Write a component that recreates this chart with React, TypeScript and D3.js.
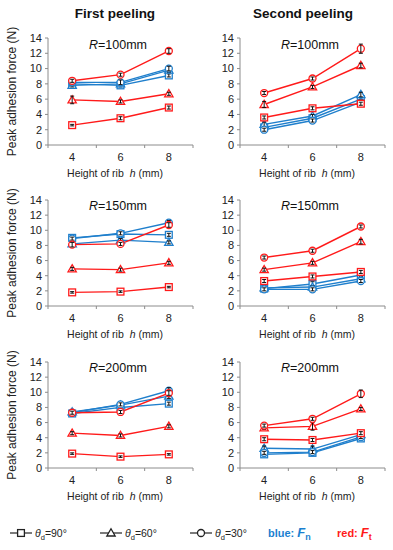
import React from 'react'
import * as d3 from 'd3'

const heights = [4, 6, 8]
const yTicks = [0, 2, 4, 6, 8, 10, 12, 14]

// series order: blue square, blue triangle, blue circle, red square, red triangle, red circle
const firstR100 = [[8.0, 7.8, 9.1], [7.8, 8.0, 9.8], [8.2, 8.2, 10.0], [2.6, 3.5, 4.9], [5.9, 5.7, 6.7], [8.4, 9.2, 12.3]]
const secondR100 = [[2.3, 3.5, 6.0], [2.7, 3.8, 6.6], [2.0, 3.2, 5.6], [3.6, 4.8, 5.4], [5.3, 7.6, 10.4], [6.8, 8.7, 12.6]]
const firstR150 = [[9.0, 9.5, 9.4], [8.2, 8.7, 8.4], [8.9, 9.6, 11.0], [1.8, 1.9, 2.5], [4.9, 4.8, 5.7], [8.1, 8.2, 10.7]]
const secondR150 = [[2.3, 2.9, 4.1], [2.4, 2.5, 3.6], [2.2, 2.2, 3.3], [3.3, 3.9, 4.5], [4.8, 5.7, 8.5], [6.4, 7.3, 10.5]]
const firstR200 = [[7.2, 8.0, 8.5], [7.4, 8.3, 9.5], [7.3, 8.4, 10.2], [1.9, 1.5, 1.8], [4.6, 4.3, 5.5], [7.3, 7.4, 9.9]]
const secondR200 = [[1.8, 2.0, 3.9], [2.6, 2.5, 4.4], [2.0, 2.1, 4.1], [3.8, 3.7, 4.6], [5.3, 5.5, 7.8], [5.6, 6.5, 9.8]]

const firstR100Err = [[0.2, 0.2, 0.2], [0.2, 0.2, 0.3], [0.2, 0.3, 0.3], [0.1, 0.2, 0.2], [0.5, 0.2, 0.2], [0.2, 0.2, 0.3]]
const secondR100Err = [[0.2, 0.2, 0.3], [0.3, 0.2, 0.3], [0.2, 0.2, 0.3], [0.2, 0.2, 0.2], [0.4, 0.2, 0.3], [0.2, 0.2, 0.6]]
const firstR150Err = [[0.2, 0.2, 0.2], [0.2, 0.2, 0.2], [0.2, 0.2, 0.3], [0.1, 0.1, 0.1], [0.2, 0.2, 0.2], [0.3, 0.2, 0.3]]
const secondR150Err = [[0.2, 0.3, 0.2], [0.2, 0.2, 0.2], [0.2, 0.2, 0.2], [0.2, 0.2, 0.2], [0.2, 0.2, 0.3], [0.2, 0.2, 0.2]]
const firstR200Err = [[0.2, 0.2, 0.2], [0.2, 0.2, 0.3], [0.2, 0.2, 0.4], [0.1, 0.1, 0.1], [0.2, 0.2, 0.2], [0.2, 0.2, 0.3]]
const secondR200Err = [[0.2, 0.2, 0.2], [0.3, 0.4, 0.3], [0.2, 0.2, 0.2], [0.2, 0.2, 0.2], [0.2, 0.5, 0.2], [0.2, 0.2, 0.5]]

const radii = ['100', '150', '200']
const colTitles = ['First peeling', 'Second peeling']

const BLUE = '#1f7fcc'
const RED = '#ff1a1a'
const FONT = '"Liberation Sans", Arial, sans-serif'

type Shape = 'square' | 'triangle' | 'circle'
const shapes: Shape[] = ['square', 'triangle', 'circle', 'square', 'triangle', 'circle']
const colors = [BLUE, BLUE, BLUE, RED, RED, RED]

function Marker({ shape, x, y, color, fill = 'white' }: { shape: Shape; x: number; y: number; color: string; fill?: string }) {
  if (shape === 'square') return <rect x={x - 3.4} y={y - 3.4} width={6.8} height={6.8} fill={fill} stroke={color} strokeWidth={1.3} />
  if (shape === 'triangle') {
    const p = d3.symbol(d3.symbolTriangle, 30)()
    return <path d={p || ''} transform={`translate(${x},${y + 0.6})`} fill={fill} stroke={color} strokeWidth={1.3} />
  }
  return <circle cx={x} cy={y} r={3.5} fill={fill} stroke={color} strokeWidth={1.3} />
}

function Panel({ left, top, bottom, data, errs, radius }: { left: number; top: number; bottom: number; data: number[][]; errs: number[][]; radius: string }) {
  const right = left + 145
  const x = d3.scalePoint<number>().domain(heights).range([left, right]).padding(0.5)
  const y = d3.scaleLinear().domain([0, 14]).range([bottom, top])
  const line = d3.line<number>().x((d, i) => x(heights[i]) as number).y(d => y(d))
  const step = x.step()
  const xTickPos = [0, 1, 2, 3].map(i => left + i * step)
  return (
    <g>
      <line x1={left} x2={left} y1={top} y2={bottom} stroke="#8c8c8c" />
      <line x1={left} x2={right} y1={bottom} y2={bottom} stroke="#8c8c8c" />
      {yTicks.map(t => (
        <g key={t}>
          <line x1={left - 3} x2={left} y1={y(t)} y2={y(t)} stroke="#8c8c8c" />
          <text x={left - 6} y={y(t)} dy="0.35em" textAnchor="end" fontSize={11} fill="#222">{t}</text>
        </g>
      ))}
      {xTickPos.map((p, i) => (
        <line key={i} x1={p} x2={p} y1={bottom} y2={bottom + 3} stroke="#8c8c8c" />
      ))}
      {heights.map(h => (
        <text key={h} x={x(h)} y={bottom + 16} textAnchor="middle" fontSize={11} fill="#222">{h}</text>
      ))}
      <text x={left + 41} y={bottom - 96} fontSize={12.5} fill="#111">
        <tspan fontStyle="italic">R</tspan>={radius}mm
      </text>
      <text x={left + 67} y={bottom + 32} textAnchor="middle" fontSize={10.5} fill="#222">
        Height of rib <tspan fontStyle="italic" dx={3}>h</tspan> (mm)
      </text>
      {data.map((s, si) => (
        <path key={si} d={line(s) || ''} fill="none" stroke={colors[si]} strokeWidth={1.4} />
      ))}
      {data.map((s, si) =>
        s.map((v, i) => {
          const cx = x(heights[i]) as number
          const e = errs[si][i]
          return (
            <g key={`${si}-${i}`}>
              <Marker shape={shapes[si]} x={cx} y={y(v)} color={colors[si]} />
              <line x1={cx} x2={cx} y1={y(v - e)} y2={y(v + e)} stroke="#111" strokeWidth={1} />
              <line x1={cx - 2} x2={cx + 2} y1={y(v + e)} y2={y(v + e)} stroke="#111" strokeWidth={1} />
              <line x1={cx - 2} x2={cx + 2} y1={y(v - e)} y2={y(v - e)} stroke="#111" strokeWidth={1} />
            </g>
          )
        })
      )}
    </g>
  )
}

export default function App() {
  const cols = [48, 240]
  const rows = [{ top: 38, bottom: 145 }, { top: 200, bottom: 306 }, { top: 362, bottom: 468 }]
  const panels = [
    [firstR100, secondR100],
    [firstR150, secondR150],
    [firstR200, secondR200],
  ]
  const panelErrs = [
    [firstR100Err, secondR100Err],
    [firstR150Err, secondR150Err],
    [firstR200Err, secondR200Err],
  ]
  const legendItems: { shape: Shape; x: number; label: string }[] = [
    { shape: 'square', x: 10, label: '90°' },
    { shape: 'triangle', x: 100, label: '60°' },
    { shape: 'circle', x: 190, label: '30°' },
  ]
  const ly = 533
  return (
    <svg width={393} height={550} style={{ position: 'absolute', left: 0, top: 0, fontFamily: FONT }}>
      <rect width={393} height={550} fill="white" />
      {colTitles.map((t, i) => (
        <text key={t} x={cols[i] + (i === 0 ? 67 : 63)} y={18} textAnchor="middle" fontSize={13.5} fontWeight="bold" fill="#111">{t}</text>
      ))}
      {rows.map((r, ri) => (
        <text key={ri} transform={`translate(16,${(r.top + r.bottom) / 2}) rotate(-90)`} textAnchor="middle" fontSize={12} fill="#222">
          Peak adhesion force (N)
        </text>
      ))}
      {rows.map((r, ri) =>
        cols.map((c, ci) => (
          <Panel key={`${ri}-${ci}`} left={c} top={r.top} bottom={r.bottom} data={panels[ri][ci]} errs={panelErrs[ri][ci]} radius={radii[ri]} />
        ))
      )}
      {legendItems.map(it => (
        <g key={it.label}>
          <line x1={it.x} x2={it.x + 22} y1={ly} y2={ly} stroke="#222" strokeWidth={1.2} />
          <Marker shape={it.shape} x={it.x + 11} y={ly} color="#222" />
          <text x={it.x + 25} y={ly + 4} fontSize={10.5} fill="#222">
            <tspan fontStyle="italic">θ</tspan>
            <tspan fontSize={7.5} dy={3}>d</tspan>
            <tspan dy={-3}>={it.label}</tspan>
          </text>
        </g>
      ))}
      <text x={268} y={ly + 4} fontSize={11} fontWeight="bold" fill="#1a7fd0">
        blue: <tspan fontStyle="italic" fontSize={13}>F</tspan>
        <tspan fontSize={9} dy={3}>n</tspan>
      </text>
      <text x={337} y={ly + 4} fontSize={11} fontWeight="bold" fill={RED}>
        red: <tspan fontStyle="italic" fontSize={13}>F</tspan>
        <tspan fontSize={9} dy={3}>t</tspan>
      </text>
    </svg>
  )
}
